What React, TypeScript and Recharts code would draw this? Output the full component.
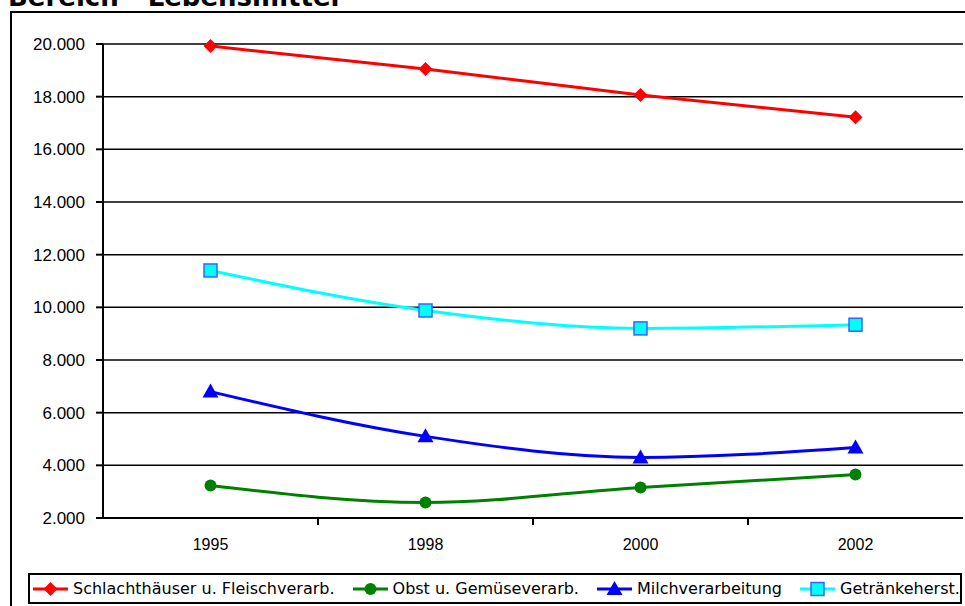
import React from "react";
import {
  CartesianGrid,
  Legend,
  Line,
  LineChart,
  XAxis,
  YAxis,
} from "recharts";

const years = ["1995", "1998", "2000", "2002"];
const schlacht = [19920, 19050, 18060, 17220];
const obst = [3230, 2590, 3160, 3650];
const milch = [6800, 5100, 4300, 4680];
const getraenke = [11400, 9880, 9200, 9340];
const yTicks = [2000, 4000, 6000, 8000, 10000, 12000, 14000, 16000, 18000, 20000];

const series = [
  { key: "schlacht", name: "Schlachthäuser u. Fleischverarb.", color: "#FF0000", marker: "diamond" },
  { key: "obst", name: "Obst u. Gemüseverarb.", color: "#008000", marker: "circle" },
  { key: "milch", name: "Milchverarbeitung", color: "#0000FF", marker: "triangle" },
  { key: "getraenke", name: "Getränkeherst.", color: "#00FFFF", marker: "square" },
];

// categories sit at x = 0.5, 1.5, ... so the tick marks fall between them
const data = years.map((year, i) => ({
  x: i + 0.5,
  year,
  schlacht: schlacht[i],
  obst: obst[i],
  milch: milch[i],
  getraenke: getraenke[i],
}));

const font = "'Liberation Sans', Arial, sans-serif";
const legendFont = "'DejaVu Sans', Verdana, sans-serif";

function fmt(v: number) {
  return String(v).replace(/\B(?=(\d{3})+(?!\d))/g, ".");
}

function Marker({ type, cx, cy, color }: { type: string; cx: number; cy: number; color: string }) {
  if (type === "diamond") {
    return <polygon points={`${cx},${cy - 7} ${cx + 7},${cy} ${cx},${cy + 7} ${cx - 7},${cy}`} fill={color} />;
  }
  if (type === "circle") {
    return <circle cx={cx} cy={cy} r={6} fill={color} />;
  }
  if (type === "triangle") {
    return <polygon points={`${cx},${cy - 8} ${cx + 8},${cy + 6} ${cx - 8},${cy + 6}`} fill={color} />;
  }
  return <rect x={cx - 6.5} y={cy - 6.5} width={13} height={13} fill={color} stroke="#3366FF" strokeWidth={1.5} />;
}

function XTick(props: any) {
  const { x, y, payload } = props;
  const v = payload.value as number;
  if (Number.isInteger(v)) {
    return <line x1={x} y1={y} x2={x} y2={y + 7} stroke="#000" strokeWidth={2} />;
  }
  const label = years[Math.floor(v)];
  return (
    <text x={x} y={y + 32} textAnchor="middle" fontFamily={font} fontSize={16} fill="#000">
      {label}
    </text>
  );
}

function LegendBox() {
  return (
    <div
      style={{
        width: 927,
        height: 27,
        border: "2px solid #000",
        display: "flex",
        alignItems: "center",
        gap: 18,
        paddingLeft: 3,
        boxSizing: "content-box",
        fontFamily: legendFont,
        fontSize: 16,
        color: "#000",
        whiteSpace: "nowrap",
      }}
    >
      {series.map((s) => (
        <div key={s.key} style={{ display: "flex", alignItems: "center", gap: 5 }}>
          <svg width={35} height={18}>
            <line x1={0} y1={9} x2={35} y2={9} stroke={s.color} strokeWidth={3} />
            <Marker type={s.marker} cx={17.5} cy={9} color={s.color} />
          </svg>
          <span>{s.name}</span>
        </div>
      ))}
    </div>
  );
}

export default function App() {
  return (
    <div
      style={{
        position: "absolute",
        left: 0,
        top: 0,
        width: 965,
        height: 606,
        overflow: "hidden",
        background: "#fff",
      }}
    >
      <div
        style={{
          position: "absolute",
          left: 8,
          top: -18,
          fontFamily: legendFont,
          fontWeight: "bold",
          fontSize: 26,
          whiteSpace: "nowrap",
        }}
      >
        Bereich - Lebensmittel
      </div>
      <div
        style={{
          position: "absolute",
          left: 10,
          top: 11,
          width: 1000,
          height: 700,
          border: "2px solid #000",
        }}
      />
      <div style={{ position: "absolute", left: 0, top: 0 }}>
        <LineChart
          width={965}
          height={606}
          data={data}
          margin={{ top: 44, right: 2, bottom: 17, left: 0 }}
        >
          <CartesianGrid vertical={false} stroke="#000" strokeWidth={1.5} />
          <XAxis
            dataKey="x"
            type="number"
            domain={[0, 4]}
            ticks={[0.5, 1, 1.5, 2, 2.5, 3, 3.5]}
            interval={0}
            height={40}
            tickSize={0}
            tickMargin={0}
            tickLine={false}
            axisLine={{ stroke: "#000", strokeWidth: 2 }}
            tick={<XTick />}
          />
          <YAxis
            width={103}
            domain={[2000, 20000]}
            ticks={yTicks}
            interval={0}
            tickFormatter={fmt}
            tickSize={7}
            tickMargin={11}
            axisLine={{ stroke: "#000", strokeWidth: 2 }}
            tickLine={{ stroke: "#000", strokeWidth: 2 }}
            tick={{ fontFamily: font, fontSize: 17, fill: "#000" }}
          />
          <Legend
            layout="vertical"
            align="center"
            wrapperStyle={{ left: 28, top: 573, width: 931 }}
            content={() => <LegendBox />}
          />
          {series.map((s) => (
            <Line
              key={s.key}
              type="monotone"
              dataKey={s.key}
              name={s.name}
              stroke={s.color}
              strokeWidth={3}
              dot={(p: any) => <Marker key={p.index} type={s.marker} cx={p.cx} cy={p.cy} color={s.color} />}
              activeDot={false}
              isAnimationActive={false}
            />
          ))}
        </LineChart>
      </div>
    </div>
  );
}
